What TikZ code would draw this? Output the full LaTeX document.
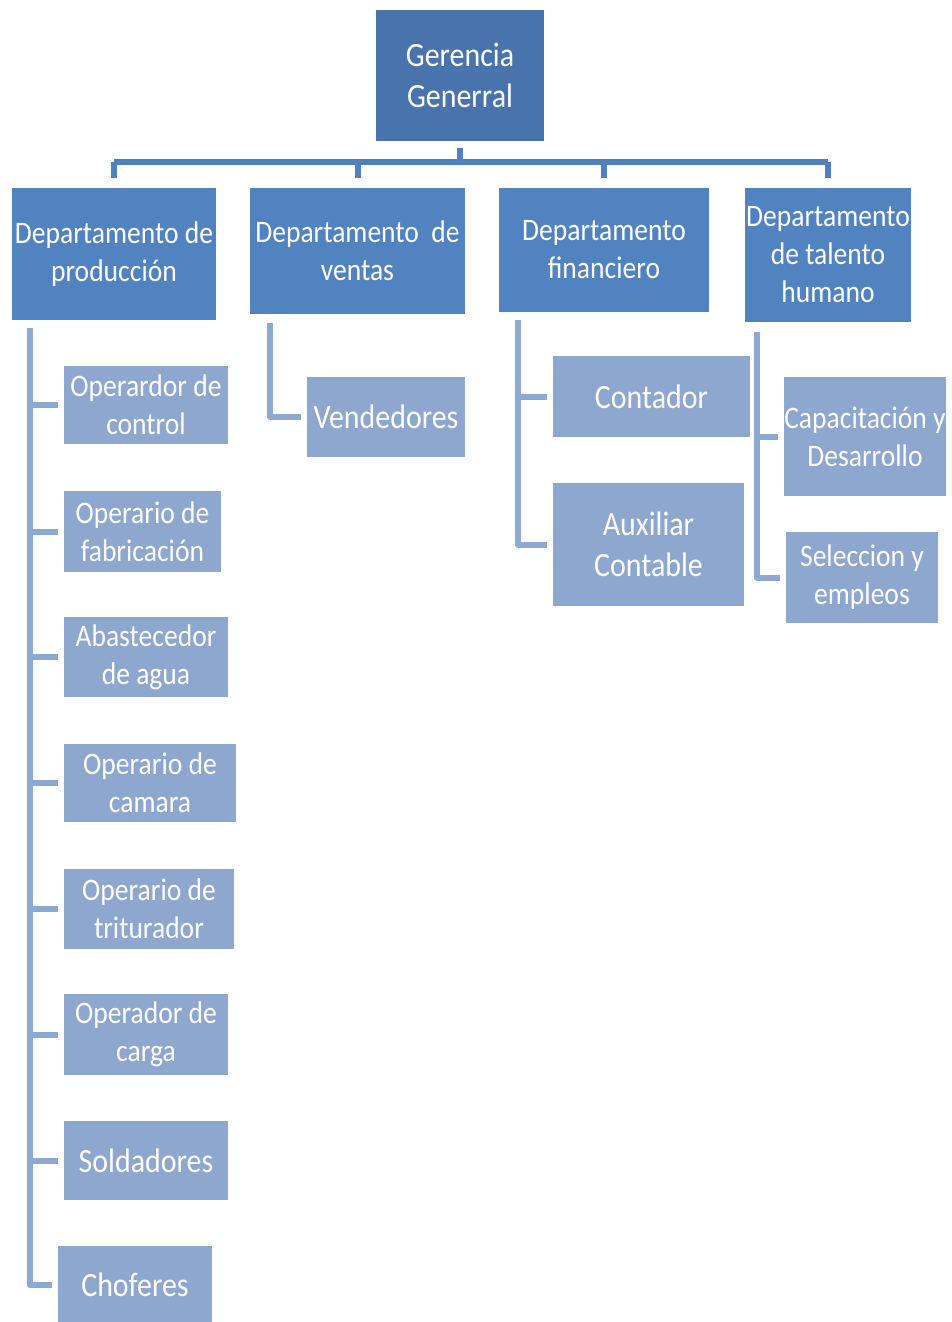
\documentclass[tikz,border=0pt]{standalone}
\usepackage{fontspec}
\setmainfont{Carlito}[FakeStretch=0.88]
\definecolor{gerc}{HTML}{4873AC}
\definecolor{depc}{HTML}{5183C0}
\definecolor{subc}{HTML}{8DA7CF}
\definecolor{topline}{HTML}{4F81BD}
\definecolor{subline}{HTML}{8EA9D1}
\tikzset{
  sz/.style 2 args={minimum width=#1*0.75pt,minimum height=#2*0.75pt},
  boxbase/.style={inner sep=0pt,align=center,text=white,font=\fontsize{23.5pt}{28.5pt}\selectfont},
  bigfont/.style={font=\fontsize{25.5pt}{30.5pt}\selectfont},
  gerbox/.style={boxbase,fill=gerc,bigfont},
  depbox/.style={boxbase,fill=depc},
  subbox/.style={boxbase,fill=subc},
  topconn/.style={draw=topline,line width=4.5pt},
  subconn/.style={draw=subline,line width=4.5pt,line join=round},
}
\begin{document}
\begin{tikzpicture}[x=0.75pt,y=-0.75pt]
\useasboundingbox (0,0) rectangle (951,1322);
% top
\node[gerbox,sz={168}{131}] (ger) at (460,75.5) {Gerencia\\Generral};
% departments
\node[depbox,sz={204}{132}] (d1) at (114,254) {Departamento de\\producción};
\node[depbox,sz={215}{126}] (d2) at (357.5,251) {Departamento~ de\\ventas};
\node[depbox,sz={210}{124}] (d3) at (604,250) {Departamento\\financiero};
\node[depbox,sz={166}{134}] (d4) at (828,255) {Departamento\\de talento\\humano};
% production
\node[subbox,sz={164}{78}] (p1) at (146,405) {Operardor de\\control};
\node[subbox,sz={157}{81}] (p2) at (142.5,531.5) {Operario de\\fabricación};
\node[subbox,sz={164}{80}] (p3) at (146,657) {Abastecedor\\de agua};
\node[subbox,sz={172}{78}] (p4) at (150,783) {Operario de\\camara};
\node[subbox,sz={170}{80}] (p5) at (149,909) {Operario de\\triturador};
\node[subbox,sz={164}{81}] (p6) at (146,1034.5) {Operador de\\carga};
\node[subbox,bigfont,sz={164}{79}] (p7) at (146,1160.5) {Soldadores};
\node[subbox,bigfont,sz={154}{78}] (p8) at (135,1285) {Choferes};
% sales
\node[subbox,bigfont,sz={158}{80}] (v1) at (386,417) {Vendedores};
% finance
\node[subbox,bigfont,sz={197}{81}] (f1) at (651.5,396.5) {Contador};
\node[subbox,bigfont,sz={191}{123}] (f2) at (648.5,544.5) {Auxiliar\\Contable};
% talent
\node[subbox,sz={162}{119}] (t1) at (865,436.5) {Capacitación y\\Desarrollo};
\node[subbox,sz={152}{91}] (t2) at (862,577.5) {Seleccion y\\empleos};
% top connectors
\coordinate (bus) at (460,162);
\draw[topconn,shorten <=5pt] (ger.south) -- (ger.south |- bus);
\draw[topconn] (d1.north |- bus) -- (d4.north |- bus);
\foreach \d in {d1,d2,d3,d4}
  \draw[topconn,shorten >=7.5pt] (\d.north |- bus) -- (\d.north);
% production connectors
\coordinate (pa) at (30,320);
\draw[subconn,shorten <=6pt,shorten >=4.5pt] (pa) |- (p8.west);
\foreach \p in {p1,p2,p3,p4,p5,p6,p7}
  \draw[subconn,shorten >=4.5pt] (pa |- \p.west) -- (\p.west);
% sales connectors
\coordinate (va) at (270,314);
\draw[subconn,shorten <=6.5pt,shorten >=4.5pt] (va) |- (v1.west);
% finance connectors
\coordinate (fa) at (518,312);
\draw[subconn,shorten <=6pt,shorten >=4.5pt] (fa) |- (f2.west);
\draw[subconn,shorten >=4.5pt] (fa |- f1.west) -- (f1.west);
% talent connectors
\coordinate (ta) at (757,322);
\draw[subconn,shorten <=7.5pt,shorten >=4.5pt] (ta) |- (t2.west);
\draw[subconn,shorten >=4.5pt] (ta |- t1.west) -- (t1.west);
\end{tikzpicture}
\end{document}
